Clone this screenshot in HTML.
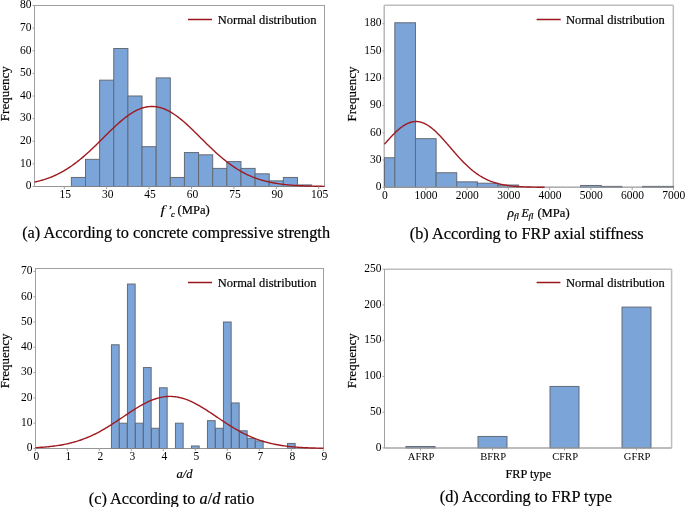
<!DOCTYPE html>
<html><head><meta charset="utf-8"><style>
html,body{margin:0;padding:0;background:#fff;}
svg{display:block;}
text.t{stroke-width:0!important;}
text{font-family:"Liberation Serif", serif;fill:#000;stroke:#000;stroke-width:0.2px;font-variant-ligatures:none;}
</style></head><body>
<svg width="685" height="507" viewBox="0 0 685 507">
<rect width="685" height="507" fill="#fff"/>
<rect x="34.5" y="5.5" width="290.0" height="181.0" fill="none" stroke="#a0a0a0" stroke-width="1"/>
<rect x="71.37" y="177.45" width="14.13" height="9.05" fill="#7ba4d8" stroke="#646b76" stroke-width="1"/>
<rect x="85.50" y="159.35" width="14.13" height="27.15" fill="#7ba4d8" stroke="#646b76" stroke-width="1"/>
<rect x="99.63" y="80.16" width="14.13" height="106.34" fill="#7ba4d8" stroke="#646b76" stroke-width="1"/>
<rect x="113.77" y="48.49" width="14.13" height="138.01" fill="#7ba4d8" stroke="#646b76" stroke-width="1"/>
<rect x="127.90" y="96.00" width="14.13" height="90.50" fill="#7ba4d8" stroke="#646b76" stroke-width="1"/>
<rect x="142.03" y="146.68" width="14.13" height="39.82" fill="#7ba4d8" stroke="#646b76" stroke-width="1"/>
<rect x="156.17" y="77.90" width="14.13" height="108.60" fill="#7ba4d8" stroke="#646b76" stroke-width="1"/>
<rect x="170.30" y="177.45" width="14.13" height="9.05" fill="#7ba4d8" stroke="#646b76" stroke-width="1"/>
<rect x="184.43" y="152.56" width="14.13" height="33.94" fill="#7ba4d8" stroke="#646b76" stroke-width="1"/>
<rect x="198.57" y="154.82" width="14.13" height="31.68" fill="#7ba4d8" stroke="#646b76" stroke-width="1"/>
<rect x="212.70" y="168.40" width="14.13" height="18.10" fill="#7ba4d8" stroke="#646b76" stroke-width="1"/>
<rect x="226.83" y="161.61" width="14.13" height="24.89" fill="#7ba4d8" stroke="#646b76" stroke-width="1"/>
<rect x="240.97" y="168.40" width="14.13" height="18.10" fill="#7ba4d8" stroke="#646b76" stroke-width="1"/>
<rect x="255.10" y="173.83" width="14.13" height="12.67" fill="#7ba4d8" stroke="#646b76" stroke-width="1"/>
<rect x="269.23" y="180.84" width="14.13" height="5.66" fill="#7ba4d8" stroke="#646b76" stroke-width="1"/>
<rect x="283.37" y="177.45" width="14.13" height="9.05" fill="#7ba4d8" stroke="#646b76" stroke-width="1"/>
<rect x="297.50" y="184.92" width="14.13" height="1.58" fill="#7ba4d8" stroke="#646b76" stroke-width="1"/>
<line x1="34.5" y1="186.5" x2="324.5" y2="186.5" stroke="#8f8f8f" stroke-width="1" opacity="0.6"/>
<polyline points="34.50,182.09 35.95,181.76 37.40,181.42 38.85,181.06 40.30,180.67 41.75,180.26 43.20,179.83 44.65,179.38 46.10,178.90 47.55,178.40 49.00,177.87 50.45,177.32 51.90,176.73 53.35,176.13 54.80,175.49 56.25,174.82 57.70,174.13 59.15,173.40 60.60,172.64 62.05,171.86 63.50,171.04 64.95,170.19 66.40,169.31 67.85,168.40 69.30,167.46 70.75,166.48 72.20,165.48 73.65,164.44 75.10,163.37 76.55,162.27 78.00,161.15 79.45,159.99 80.90,158.80 82.35,157.59 83.80,156.35 85.25,155.09 86.70,153.80 88.15,152.49 89.60,151.16 91.05,149.80 92.50,148.43 93.95,147.05 95.40,145.64 96.85,144.23 98.30,142.81 99.75,141.37 101.20,139.94 102.65,138.49 104.10,137.05 105.55,135.61 107.00,134.17 108.45,132.74 109.90,131.32 111.35,129.92 112.80,128.52 114.25,127.15 115.70,125.80 117.15,124.47 118.60,123.17 120.05,121.89 121.50,120.65 122.95,119.45 124.40,118.28 125.85,117.16 127.30,116.07 128.75,115.04 130.20,114.05 131.65,113.12 133.10,112.23 134.55,111.41 136.00,110.64 137.45,109.93 138.90,109.28 140.35,108.70 141.80,108.18 143.25,107.73 144.70,107.34 146.15,107.02 147.60,106.77 149.05,106.60 150.50,106.49 151.95,106.45 153.40,106.48 154.85,106.59 156.30,106.76 157.75,107.00 159.20,107.32 160.65,107.70 162.10,108.15 163.55,108.66 165.00,109.24 166.45,109.88 167.90,110.59 169.35,111.35 170.80,112.18 172.25,113.05 173.70,113.99 175.15,114.97 176.60,116.00 178.05,117.08 179.50,118.20 180.95,119.37 182.40,120.57 183.85,121.81 185.30,123.08 186.75,124.38 188.20,125.70 189.65,127.06 191.10,128.43 192.55,129.82 194.00,131.23 195.45,132.65 196.90,134.08 198.35,135.51 199.80,136.95 201.25,138.39 202.70,139.84 204.15,141.28 205.60,142.71 207.05,144.13 208.50,145.55 209.95,146.95 211.40,148.34 212.85,149.71 214.30,151.06 215.75,152.40 217.20,153.71 218.65,155.00 220.10,156.27 221.55,157.51 223.00,158.72 224.45,159.91 225.90,161.07 227.35,162.20 228.80,163.30 230.25,164.37 231.70,165.41 233.15,166.41 234.60,167.39 236.05,168.34 237.50,169.25 238.95,170.13 240.40,170.98 241.85,171.80 243.30,172.59 244.75,173.35 246.20,174.08 247.65,174.77 249.10,175.44 250.55,176.08 252.00,176.69 253.45,177.28 254.90,177.83 256.35,178.36 257.80,178.87 259.25,179.35 260.70,179.80 262.15,180.23 263.60,180.64 265.05,181.03 266.50,181.40 267.95,181.74 269.40,182.07 270.85,182.38 272.30,182.67 273.75,182.94 275.20,183.19 276.65,183.43 278.10,183.66 279.55,183.87 281.00,184.07 282.45,184.25 283.90,184.43 285.35,184.59 286.80,184.74 288.25,184.88 289.70,185.01 291.15,185.13 292.60,185.24 294.05,185.34 295.50,185.44 296.95,185.53 298.40,185.61 299.85,185.69 301.30,185.76 302.75,185.82 304.20,185.88 305.65,185.94 307.10,185.99 308.55,186.03 310.00,186.08 311.45,186.12 312.90,186.15 314.35,186.18 315.80,186.21 317.25,186.24 318.70,186.27 320.15,186.29 321.60,186.31 323.05,186.33 324.50,186.35" fill="none" stroke="#9f1b20" stroke-width="1.4" stroke-linejoin="round"/>
<line x1="32.5" y1="186.50" x2="34.5" y2="186.50" stroke="#a0a0a0" stroke-width="1"/>
<line x1="32.5" y1="163.88" x2="34.5" y2="163.88" stroke="#a0a0a0" stroke-width="1"/>
<line x1="32.5" y1="141.25" x2="34.5" y2="141.25" stroke="#a0a0a0" stroke-width="1"/>
<line x1="32.5" y1="118.62" x2="34.5" y2="118.62" stroke="#a0a0a0" stroke-width="1"/>
<line x1="32.5" y1="96.00" x2="34.5" y2="96.00" stroke="#a0a0a0" stroke-width="1"/>
<line x1="32.5" y1="73.38" x2="34.5" y2="73.38" stroke="#a0a0a0" stroke-width="1"/>
<line x1="32.5" y1="50.75" x2="34.5" y2="50.75" stroke="#a0a0a0" stroke-width="1"/>
<line x1="32.5" y1="28.12" x2="34.5" y2="28.12" stroke="#a0a0a0" stroke-width="1"/>
<line x1="32.5" y1="5.50" x2="34.5" y2="5.50" stroke="#a0a0a0" stroke-width="1"/>
<line x1="64.30" y1="186.5" x2="64.30" y2="189.0" stroke="#a0a0a0" stroke-width="1"/>
<line x1="106.70" y1="186.5" x2="106.70" y2="189.0" stroke="#a0a0a0" stroke-width="1"/>
<line x1="149.10" y1="186.5" x2="149.10" y2="189.0" stroke="#a0a0a0" stroke-width="1"/>
<line x1="191.50" y1="186.5" x2="191.50" y2="189.0" stroke="#a0a0a0" stroke-width="1"/>
<line x1="233.90" y1="186.5" x2="233.90" y2="189.0" stroke="#a0a0a0" stroke-width="1"/>
<line x1="276.30" y1="186.5" x2="276.30" y2="189.0" stroke="#a0a0a0" stroke-width="1"/>
<line x1="318.70" y1="186.5" x2="318.70" y2="189.0" stroke="#a0a0a0" stroke-width="1"/>
<line x1="188" y1="19.5" x2="212" y2="19.5" stroke="#9a161b" stroke-width="1.5"/>
<line x1="384.2" y1="5.3" x2="673.3" y2="5.3" stroke="#bdbdbd" stroke-width="1.5"/>
<line x1="673.3" y1="5.3" x2="673.3" y2="187.2" stroke="#bdbdbd" stroke-width="1.5"/>
<line x1="384.2" y1="187.2" x2="673.3" y2="187.2" stroke="#bdbdbd" stroke-width="1.5"/>
<line x1="384.2" y1="5.3" x2="384.2" y2="187.2" stroke="#b8b8b8" stroke-width="1.5"/>
<rect x="384.50" y="157.76" width="10.32" height="29.54" fill="#7ba4d8" stroke="#646b76" stroke-width="1"/>
<rect x="394.82" y="22.77" width="20.64" height="164.53" fill="#7ba4d8" stroke="#646b76" stroke-width="1"/>
<rect x="415.46" y="138.67" width="20.64" height="48.63" fill="#7ba4d8" stroke="#646b76" stroke-width="1"/>
<rect x="436.11" y="172.76" width="20.64" height="14.54" fill="#7ba4d8" stroke="#646b76" stroke-width="1"/>
<rect x="456.75" y="181.85" width="20.64" height="5.45" fill="#7ba4d8" stroke="#646b76" stroke-width="1"/>
<rect x="477.39" y="183.21" width="20.64" height="4.09" fill="#7ba4d8" stroke="#646b76" stroke-width="1"/>
<rect x="498.04" y="185.03" width="20.64" height="2.27" fill="#7ba4d8" stroke="#646b76" stroke-width="1"/>
<rect x="580.61" y="185.48" width="20.64" height="1.82" fill="#7ba4d8" stroke="#646b76" stroke-width="1"/>
<rect x="601.25" y="186.39" width="20.64" height="0.91" fill="#7ba4d8" stroke="#646b76" stroke-width="1"/>
<rect x="642.54" y="186.39" width="20.64" height="0.91" fill="#7ba4d8" stroke="#646b76" stroke-width="1"/>
<rect x="663.18" y="186.39" width="10.32" height="0.91" fill="#7ba4d8" stroke="#646b76" stroke-width="1"/>
<line x1="384.2" y1="187.2" x2="673.3" y2="187.2" stroke="#a8a8a8" stroke-width="1.5" opacity="0.6"/>
<polyline points="384.50,144.25 385.30,143.32 386.10,142.40 386.90,141.48 387.70,140.57 388.50,139.67 389.30,138.78 390.10,137.90 390.90,137.03 391.70,136.17 392.50,135.33 393.31,134.50 394.11,133.69 394.91,132.90 395.71,132.12 396.51,131.36 397.31,130.63 398.11,129.92 398.91,129.22 399.71,128.56 400.51,127.91 401.31,127.30 402.11,126.71 402.91,126.15 403.71,125.61 404.51,125.11 405.31,124.64 406.11,124.19 406.91,123.78 407.71,123.40 408.51,123.06 409.32,122.74 410.12,122.47 410.92,122.22 411.72,122.01 412.52,121.84 413.32,121.70 414.12,121.60 414.92,121.53 415.72,121.50 416.52,121.51 417.32,121.55 418.12,121.63 418.92,121.74 419.72,121.89 420.52,122.07 421.32,122.29 422.12,122.55 422.92,122.83 423.72,123.16 424.52,123.51 425.33,123.90 426.13,124.32 426.93,124.77 427.73,125.26 428.53,125.77 429.33,126.31 430.13,126.88 430.93,127.48 431.73,128.10 432.53,128.75 433.33,129.43 434.13,130.13 434.93,130.85 435.73,131.59 436.53,132.35 437.33,133.13 438.13,133.93 438.93,134.75 439.73,135.58 440.54,136.43 441.34,137.29 442.14,138.16 442.94,139.05 443.74,139.94 444.54,140.85 445.34,141.76 446.14,142.67 446.94,143.60 447.74,144.52 448.54,145.45 449.34,146.39 450.14,147.32 450.94,148.26 451.74,149.19 452.54,150.12 453.34,151.05 454.14,151.97 454.94,152.89 455.74,153.81 456.55,154.71 457.35,155.61 458.15,156.51 458.95,157.39 459.75,158.26 460.55,159.13 461.35,159.98 462.15,160.82 462.95,161.65 463.75,162.47 464.55,163.28 465.35,164.07 466.15,164.85 466.95,165.61 467.75,166.36 468.55,167.09 469.35,167.81 470.15,168.52 470.95,169.20 471.75,169.88 472.56,170.53 473.36,171.18 474.16,171.80 474.96,172.41 475.76,173.00 476.56,173.58 477.36,174.14 478.16,174.68 478.96,175.21 479.76,175.73 480.56,176.22 481.36,176.70 482.16,177.17 482.96,177.62 483.76,178.06 484.56,178.48 485.36,178.89 486.16,179.28 486.96,179.66 487.76,180.02 488.56,180.37 489.37,180.71 490.17,181.03 490.97,181.35 491.77,181.64 492.57,181.93 493.37,182.21 494.17,182.47 494.97,182.72 495.77,182.97 496.57,183.20 497.37,183.42 498.17,183.63 498.97,183.83 499.77,184.02 500.57,184.21 501.37,184.38 502.17,184.55 502.97,184.71 503.77,184.86 504.58,185.00 505.38,185.14 506.18,185.27 506.98,185.39 507.78,185.50 508.58,185.61 509.38,185.72 510.18,185.82 510.98,185.91 511.78,186.00 512.58,186.08 513.38,186.16 514.18,186.23 514.98,186.30 515.78,186.37 516.58,186.43 517.38,186.49 518.18,186.54 518.98,186.59 519.78,186.64 520.59,186.69 521.39,186.73 522.19,186.77 522.99,186.81 523.79,186.84 524.59,186.87 525.39,186.90 526.19,186.93 526.99,186.96 527.79,186.99 528.59,187.01 529.39,187.03 530.19,187.05 530.99,187.07 531.79,187.09 532.59,187.10 533.39,187.12 534.19,187.13 534.99,187.15 535.79,187.16 536.60,187.17 537.40,187.18 538.20,187.19 539.00,187.20 539.80,187.21 540.60,187.21 541.40,187.22 542.20,187.23 543.00,187.23 543.80,187.24 544.60,187.24" fill="none" stroke="#9f1b20" stroke-width="1.4" stroke-linejoin="round"/>
<line x1="382.5" y1="187.30" x2="384.5" y2="187.30" stroke="#a0a0a0" stroke-width="1"/>
<line x1="382.5" y1="160.03" x2="384.5" y2="160.03" stroke="#a0a0a0" stroke-width="1"/>
<line x1="382.5" y1="132.76" x2="384.5" y2="132.76" stroke="#a0a0a0" stroke-width="1"/>
<line x1="382.5" y1="105.49" x2="384.5" y2="105.49" stroke="#a0a0a0" stroke-width="1"/>
<line x1="382.5" y1="78.22" x2="384.5" y2="78.22" stroke="#a0a0a0" stroke-width="1"/>
<line x1="382.5" y1="50.95" x2="384.5" y2="50.95" stroke="#a0a0a0" stroke-width="1"/>
<line x1="382.5" y1="23.68" x2="384.5" y2="23.68" stroke="#a0a0a0" stroke-width="1"/>
<line x1="384.50" y1="187.3" x2="384.50" y2="189.8" stroke="#a0a0a0" stroke-width="1"/>
<line x1="425.79" y1="187.3" x2="425.79" y2="189.8" stroke="#a0a0a0" stroke-width="1"/>
<line x1="467.07" y1="187.3" x2="467.07" y2="189.8" stroke="#a0a0a0" stroke-width="1"/>
<line x1="508.36" y1="187.3" x2="508.36" y2="189.8" stroke="#a0a0a0" stroke-width="1"/>
<line x1="549.64" y1="187.3" x2="549.64" y2="189.8" stroke="#a0a0a0" stroke-width="1"/>
<line x1="590.93" y1="187.3" x2="590.93" y2="189.8" stroke="#a0a0a0" stroke-width="1"/>
<line x1="632.21" y1="187.3" x2="632.21" y2="189.8" stroke="#a0a0a0" stroke-width="1"/>
<line x1="673.50" y1="187.3" x2="673.50" y2="189.8" stroke="#a0a0a0" stroke-width="1"/>
<line x1="536.6" y1="19.5" x2="560.7" y2="19.5" stroke="#9a161b" stroke-width="1.5"/>
<rect x="35.5" y="268.5" width="288.0" height="180.0" fill="none" stroke="#a0a0a0" stroke-width="1"/>
<rect x="111.45" y="344.77" width="7.70" height="103.73" fill="#7ba4d8" stroke="#646b76" stroke-width="1"/>
<rect x="119.45" y="423.20" width="7.70" height="25.30" fill="#7ba4d8" stroke="#646b76" stroke-width="1"/>
<rect x="127.45" y="284.05" width="7.70" height="164.45" fill="#7ba4d8" stroke="#646b76" stroke-width="1"/>
<rect x="135.45" y="423.20" width="7.70" height="25.30" fill="#7ba4d8" stroke="#646b76" stroke-width="1"/>
<rect x="143.45" y="367.54" width="7.70" height="80.96" fill="#7ba4d8" stroke="#646b76" stroke-width="1"/>
<rect x="151.45" y="428.26" width="7.70" height="20.24" fill="#7ba4d8" stroke="#646b76" stroke-width="1"/>
<rect x="159.45" y="387.78" width="7.70" height="60.72" fill="#7ba4d8" stroke="#646b76" stroke-width="1"/>
<rect x="175.45" y="423.20" width="7.70" height="25.30" fill="#7ba4d8" stroke="#646b76" stroke-width="1"/>
<rect x="191.45" y="445.97" width="7.70" height="2.53" fill="#7ba4d8" stroke="#646b76" stroke-width="1"/>
<rect x="207.45" y="420.67" width="7.70" height="27.83" fill="#7ba4d8" stroke="#646b76" stroke-width="1"/>
<rect x="215.45" y="428.26" width="7.70" height="20.24" fill="#7ba4d8" stroke="#646b76" stroke-width="1"/>
<rect x="223.45" y="322.00" width="7.70" height="126.50" fill="#7ba4d8" stroke="#646b76" stroke-width="1"/>
<rect x="231.45" y="402.96" width="7.70" height="45.54" fill="#7ba4d8" stroke="#646b76" stroke-width="1"/>
<rect x="239.45" y="430.79" width="7.70" height="17.71" fill="#7ba4d8" stroke="#646b76" stroke-width="1"/>
<rect x="247.45" y="438.38" width="7.70" height="10.12" fill="#7ba4d8" stroke="#646b76" stroke-width="1"/>
<rect x="255.45" y="440.91" width="7.70" height="7.59" fill="#7ba4d8" stroke="#646b76" stroke-width="1"/>
<rect x="287.45" y="443.44" width="7.70" height="5.06" fill="#7ba4d8" stroke="#646b76" stroke-width="1"/>
<line x1="35.5" y1="448.5" x2="323.5" y2="448.5" stroke="#8f8f8f" stroke-width="1" opacity="0.6"/>
<polyline points="35.50,447.66 36.94,447.58 38.38,447.50 39.82,447.41 41.26,447.31 42.70,447.20 44.14,447.09 45.58,446.97 47.02,446.84 48.46,446.70 49.90,446.55 51.34,446.40 52.78,446.23 54.22,446.04 55.66,445.85 57.10,445.65 58.54,445.43 59.98,445.20 61.42,444.95 62.86,444.69 64.30,444.41 65.74,444.12 67.18,443.81 68.62,443.49 70.06,443.15 71.50,442.79 72.94,442.41 74.38,442.01 75.82,441.59 77.26,441.16 78.70,440.70 80.14,440.22 81.58,439.72 83.02,439.20 84.46,438.66 85.90,438.09 87.34,437.51 88.78,436.90 90.22,436.27 91.66,435.62 93.10,434.95 94.54,434.25 95.98,433.53 97.42,432.80 98.86,432.04 100.30,431.26 101.74,430.46 103.18,429.64 104.62,428.81 106.06,427.95 107.50,427.08 108.94,426.19 110.38,425.29 111.82,424.38 113.26,423.45 114.70,422.51 116.14,421.57 117.58,420.61 119.02,419.65 120.46,418.68 121.90,417.71 123.34,416.74 124.78,415.77 126.22,414.80 127.66,413.83 129.10,412.87 130.54,411.92 131.98,410.98 133.42,410.05 134.86,409.14 136.30,408.24 137.74,407.36 139.18,406.50 140.62,405.66 142.06,404.85 143.50,404.06 144.94,403.31 146.38,402.58 147.82,401.89 149.26,401.23 150.70,400.61 152.14,400.02 153.58,399.47 155.02,398.97 156.46,398.50 157.90,398.08 159.34,397.71 160.78,397.38 162.22,397.10 163.66,396.86 165.10,396.67 166.54,396.53 167.98,396.44 169.42,396.40 170.86,396.41 172.30,396.47 173.74,396.58 175.18,396.73 176.62,396.93 178.06,397.19 179.50,397.48 180.94,397.83 182.38,398.22 183.82,398.65 185.26,399.13 186.70,399.65 188.14,400.21 189.58,400.81 191.02,401.44 192.46,402.11 193.90,402.82 195.34,403.56 196.78,404.32 198.22,405.12 199.66,405.94 201.10,406.78 202.54,407.65 203.98,408.53 205.42,409.44 206.86,410.36 208.30,411.29 209.74,412.24 211.18,413.19 212.62,414.15 214.06,415.12 215.50,416.09 216.94,417.06 218.38,418.03 219.82,419.00 221.26,419.97 222.70,420.93 224.14,421.88 225.58,422.83 227.02,423.76 228.46,424.69 229.90,425.60 231.34,426.49 232.78,427.37 234.22,428.24 235.66,429.09 237.10,429.92 238.54,430.73 239.98,431.52 241.42,432.29 242.86,433.04 244.30,433.78 245.74,434.48 247.18,435.17 248.62,435.84 250.06,436.48 251.50,437.11 252.94,437.71 254.38,438.28 255.82,438.84 257.26,439.38 258.70,439.89 260.14,440.38 261.58,440.85 263.02,441.30 264.46,441.73 265.90,442.14 267.34,442.54 268.78,442.91 270.22,443.26 271.66,443.60 273.10,443.92 274.54,444.22 275.98,444.51 277.42,444.78 278.86,445.03 280.30,445.28 281.74,445.50 283.18,445.72 284.62,445.92 286.06,446.11 287.50,446.28 288.94,446.45 290.38,446.60 291.82,446.75 293.26,446.89 294.70,447.01 296.14,447.13 297.58,447.24 299.02,447.34 300.46,447.44 301.90,447.52 303.34,447.61 304.78,447.68 306.22,447.75 307.66,447.82 309.10,447.88 310.54,447.93 311.98,447.98 313.42,448.03 314.86,448.07 316.30,448.11 317.74,448.15 319.18,448.18 320.62,448.21 322.06,448.24 323.50,448.26" fill="none" stroke="#9f1b20" stroke-width="1.4" stroke-linejoin="round"/>
<line x1="33.5" y1="448.50" x2="35.5" y2="448.50" stroke="#a0a0a0" stroke-width="1"/>
<line x1="33.5" y1="423.20" x2="35.5" y2="423.20" stroke="#a0a0a0" stroke-width="1"/>
<line x1="33.5" y1="397.90" x2="35.5" y2="397.90" stroke="#a0a0a0" stroke-width="1"/>
<line x1="33.5" y1="372.60" x2="35.5" y2="372.60" stroke="#a0a0a0" stroke-width="1"/>
<line x1="33.5" y1="347.30" x2="35.5" y2="347.30" stroke="#a0a0a0" stroke-width="1"/>
<line x1="33.5" y1="322.00" x2="35.5" y2="322.00" stroke="#a0a0a0" stroke-width="1"/>
<line x1="33.5" y1="296.70" x2="35.5" y2="296.70" stroke="#a0a0a0" stroke-width="1"/>
<line x1="33.5" y1="271.40" x2="35.5" y2="271.40" stroke="#a0a0a0" stroke-width="1"/>
<line x1="35.30" y1="448.5" x2="35.30" y2="451.0" stroke="#a0a0a0" stroke-width="1"/>
<line x1="67.30" y1="448.5" x2="67.30" y2="451.0" stroke="#a0a0a0" stroke-width="1"/>
<line x1="99.30" y1="448.5" x2="99.30" y2="451.0" stroke="#a0a0a0" stroke-width="1"/>
<line x1="131.30" y1="448.5" x2="131.30" y2="451.0" stroke="#a0a0a0" stroke-width="1"/>
<line x1="163.30" y1="448.5" x2="163.30" y2="451.0" stroke="#a0a0a0" stroke-width="1"/>
<line x1="195.30" y1="448.5" x2="195.30" y2="451.0" stroke="#a0a0a0" stroke-width="1"/>
<line x1="227.30" y1="448.5" x2="227.30" y2="451.0" stroke="#a0a0a0" stroke-width="1"/>
<line x1="259.30" y1="448.5" x2="259.30" y2="451.0" stroke="#a0a0a0" stroke-width="1"/>
<line x1="291.30" y1="448.5" x2="291.30" y2="451.0" stroke="#a0a0a0" stroke-width="1"/>
<line x1="323.30" y1="448.5" x2="323.30" y2="451.0" stroke="#a0a0a0" stroke-width="1"/>
<line x1="188" y1="282.5" x2="212" y2="282.5" stroke="#9a161b" stroke-width="1.5"/>
<line x1="384.5" y1="269.2" x2="671.6" y2="269.2" stroke="#bdbdbd" stroke-width="1.5"/>
<line x1="671.6" y1="269.2" x2="671.6" y2="447.9" stroke="#bdbdbd" stroke-width="1.5"/>
<line x1="384.5" y1="447.9" x2="671.6" y2="447.9" stroke="#bdbdbd" stroke-width="1.5"/>
<line x1="384.5" y1="269.2" x2="384.5" y2="447.9" stroke="#a0a0a0" stroke-width="1"/>
<rect x="406.00" y="446.47" width="29.00" height="1.43" fill="#7ba4d8" stroke="#646b76" stroke-width="1"/>
<rect x="478.00" y="436.46" width="29.00" height="11.44" fill="#7ba4d8" stroke="#646b76" stroke-width="1"/>
<rect x="550.00" y="386.43" width="29.00" height="61.47" fill="#7ba4d8" stroke="#646b76" stroke-width="1"/>
<rect x="622.00" y="307.08" width="29.00" height="140.82" fill="#7ba4d8" stroke="#646b76" stroke-width="1"/>
<line x1="384.5" y1="447.9" x2="671.6" y2="447.9" stroke="#a8a8a8" stroke-width="1.5" opacity="0.6"/>
<line x1="382.5" y1="447.90" x2="384.5" y2="447.90" stroke="#a0a0a0" stroke-width="1"/>
<line x1="382.5" y1="412.16" x2="384.5" y2="412.16" stroke="#a0a0a0" stroke-width="1"/>
<line x1="382.5" y1="376.42" x2="384.5" y2="376.42" stroke="#a0a0a0" stroke-width="1"/>
<line x1="382.5" y1="340.68" x2="384.5" y2="340.68" stroke="#a0a0a0" stroke-width="1"/>
<line x1="382.5" y1="304.94" x2="384.5" y2="304.94" stroke="#a0a0a0" stroke-width="1"/>
<line x1="382.5" y1="269.20" x2="384.5" y2="269.20" stroke="#a0a0a0" stroke-width="1"/>
<line x1="420.50" y1="447.9" x2="420.50" y2="450.4" stroke="#a0a0a0" stroke-width="1"/>
<line x1="492.50" y1="447.9" x2="492.50" y2="450.4" stroke="#a0a0a0" stroke-width="1"/>
<line x1="564.50" y1="447.9" x2="564.50" y2="450.4" stroke="#a0a0a0" stroke-width="1"/>
<line x1="636.50" y1="447.9" x2="636.50" y2="450.4" stroke="#a0a0a0" stroke-width="1"/>
<line x1="536.6" y1="282.5" x2="560.4" y2="282.5" stroke="#9a161b" stroke-width="1.5"/>
<g style="will-change:transform"><text x="31.50" y="189.30" font-size="11.5" text-anchor="end" class="t">0</text>
<text x="31.50" y="166.68" font-size="11.5" text-anchor="end" class="t">10</text>
<text x="31.50" y="144.05" font-size="11.5" text-anchor="end" class="t">20</text>
<text x="31.50" y="121.42" font-size="11.5" text-anchor="end" class="t">30</text>
<text x="31.50" y="98.80" font-size="11.5" text-anchor="end" class="t">40</text>
<text x="31.50" y="76.17" font-size="11.5" text-anchor="end" class="t">50</text>
<text x="31.50" y="53.55" font-size="11.5" text-anchor="end" class="t">60</text>
<text x="31.50" y="30.93" font-size="11.5" text-anchor="end" class="t">70</text>
<text x="31.50" y="8.30" font-size="11.5" text-anchor="end" class="t">80</text>
<text x="65.30" y="197.80" font-size="11.5" text-anchor="middle" class="t">15</text>
<text x="107.70" y="197.80" font-size="11.5" text-anchor="middle" class="t">30</text>
<text x="150.10" y="197.80" font-size="11.5" text-anchor="middle" class="t">45</text>
<text x="192.50" y="197.80" font-size="11.5" text-anchor="middle" class="t">60</text>
<text x="234.90" y="197.80" font-size="11.5" text-anchor="middle" class="t">75</text>
<text x="277.30" y="197.80" font-size="11.5" text-anchor="middle" class="t">90</text>
<text x="319.70" y="197.80" font-size="11.5" text-anchor="middle" class="t">105</text>
<text x="0" y="0" transform="translate(217.70 23.80) scale(1.0 1.06)" font-size="12.5" text-anchor="start" >Normal distribution</text>
<text x="8.8" y="93.75" font-size="13" text-anchor="middle" transform="rotate(-90 8.8 93.75)">Frequency</text>
<text x="0" y="0" font-size="12" font-style="italic" transform="translate(160.6 214.3) scale(1.35 1)" style="stroke-width:0.1px">f</text>
<text x="167.70" y="214.30" font-size="12" text-anchor="start" font-style="italic">’</text>
<text x="171.00" y="217.30" font-size="8.6" text-anchor="start" font-style="italic">c</text>
<text x="177.60" y="214.30" font-size="12.6" text-anchor="start" >(MPa)</text>
<text x="176.10" y="238.00" font-size="16.3" text-anchor="middle" >(a) According to concrete compressive strength</text>
<text x="381.50" y="190.10" font-size="11.5" text-anchor="end" class="t">0</text>
<text x="381.50" y="162.83" font-size="11.5" text-anchor="end" class="t">30</text>
<text x="381.50" y="135.56" font-size="11.5" text-anchor="end" class="t">60</text>
<text x="381.50" y="108.29" font-size="11.5" text-anchor="end" class="t">90</text>
<text x="381.50" y="81.02" font-size="11.5" text-anchor="end" class="t">120</text>
<text x="381.50" y="53.75" font-size="11.5" text-anchor="end" class="t">150</text>
<text x="381.50" y="26.48" font-size="11.5" text-anchor="end" class="t">180</text>
<text x="384.80" y="198.60" font-size="11.5" text-anchor="middle" class="t">0</text>
<text x="426.09" y="198.60" font-size="11.5" text-anchor="middle" class="t">1000</text>
<text x="467.37" y="198.60" font-size="11.5" text-anchor="middle" class="t">2000</text>
<text x="508.66" y="198.60" font-size="11.5" text-anchor="middle" class="t">3000</text>
<text x="549.94" y="198.60" font-size="11.5" text-anchor="middle" class="t">4000</text>
<text x="591.23" y="198.60" font-size="11.5" text-anchor="middle" class="t">5000</text>
<text x="632.51" y="198.60" font-size="11.5" text-anchor="middle" class="t">6000</text>
<text x="673.80" y="198.60" font-size="11.5" text-anchor="middle" class="t">7000</text>
<text x="0" y="0" transform="translate(565.90 23.80) scale(1.0 1.06)" font-size="12.5" text-anchor="start" >Normal distribution</text>
<text x="356.4" y="94" font-size="13" text-anchor="middle" transform="rotate(-90 356.4 94)">Frequency</text>
<text x="507.60" y="216.50" font-size="13.5" text-anchor="start" font-style="italic">ρ</text>
<text x="514.00" y="219.00" font-size="8.6" text-anchor="start" font-style="italic">fl</text>
<text x="521.50" y="216.50" font-size="12" text-anchor="start" font-style="italic">E</text>
<text x="528.50" y="219.00" font-size="8.6" text-anchor="start" font-style="italic">fl</text>
<text x="537.40" y="216.50" font-size="12.6" text-anchor="start" >(MPa)</text>
<text x="526.70" y="239.00" font-size="16.3" text-anchor="middle" >(b) According to FRP axial stiffness</text>
<text x="32.50" y="451.30" font-size="11.5" text-anchor="end" class="t">0</text>
<text x="32.50" y="426.00" font-size="11.5" text-anchor="end" class="t">10</text>
<text x="32.50" y="400.70" font-size="11.5" text-anchor="end" class="t">20</text>
<text x="32.50" y="375.40" font-size="11.5" text-anchor="end" class="t">30</text>
<text x="32.50" y="350.10" font-size="11.5" text-anchor="end" class="t">40</text>
<text x="32.50" y="324.80" font-size="11.5" text-anchor="end" class="t">50</text>
<text x="32.50" y="299.50" font-size="11.5" text-anchor="end" class="t">60</text>
<text x="32.50" y="274.20" font-size="11.5" text-anchor="end" class="t">70</text>
<text x="36.30" y="459.60" font-size="11.5" text-anchor="middle" class="t">0</text>
<text x="68.30" y="459.60" font-size="11.5" text-anchor="middle" class="t">1</text>
<text x="100.30" y="459.60" font-size="11.5" text-anchor="middle" class="t">2</text>
<text x="132.30" y="459.60" font-size="11.5" text-anchor="middle" class="t">3</text>
<text x="164.30" y="459.60" font-size="11.5" text-anchor="middle" class="t">4</text>
<text x="196.30" y="459.60" font-size="11.5" text-anchor="middle" class="t">5</text>
<text x="228.30" y="459.60" font-size="11.5" text-anchor="middle" class="t">6</text>
<text x="260.30" y="459.60" font-size="11.5" text-anchor="middle" class="t">7</text>
<text x="292.30" y="459.60" font-size="11.5" text-anchor="middle" class="t">8</text>
<text x="324.30" y="459.60" font-size="11.5" text-anchor="middle" class="t">9</text>
<text x="0" y="0" transform="translate(217.70 286.70) scale(1.0 1.06)" font-size="12.5" text-anchor="start" >Normal distribution</text>
<text x="8.8" y="360.9" font-size="13" text-anchor="middle" transform="rotate(-90 8.8 360.9)">Frequency</text>
<text x="184.50" y="477.60" font-size="12.5" text-anchor="middle" font-style="italic">a/d</text>
<text x="88.80" y="503.60" font-size="16.3" text-anchor="start" >(c) According to <tspan font-style="italic">a</tspan>/<tspan font-style="italic">d</tspan> ratio</text>
<text x="381.50" y="450.70" font-size="11.5" text-anchor="end" class="t">0</text>
<text x="381.50" y="414.96" font-size="11.5" text-anchor="end" class="t">50</text>
<text x="381.50" y="379.22" font-size="11.5" text-anchor="end" class="t">100</text>
<text x="381.50" y="343.48" font-size="11.5" text-anchor="end" class="t">150</text>
<text x="381.50" y="307.74" font-size="11.5" text-anchor="end" class="t">200</text>
<text x="381.50" y="272.00" font-size="11.5" text-anchor="end" class="t">250</text>
<text x="421.10" y="459.60" font-size="10.6" text-anchor="middle" class="t">AFRP</text>
<text x="493.10" y="459.60" font-size="10.6" text-anchor="middle" class="t">BFRP</text>
<text x="565.10" y="459.60" font-size="10.6" text-anchor="middle" class="t">CFRP</text>
<text x="637.10" y="459.60" font-size="10.6" text-anchor="middle" class="t">GFRP</text>
<text x="0" y="0" transform="translate(565.90 286.70) scale(1.0 1.06)" font-size="12.5" text-anchor="start" >Normal distribution</text>
<text x="356.4" y="360.75" font-size="13" text-anchor="middle" transform="rotate(-90 356.4 360.75)">Frequency</text>
<text x="528.30" y="477.80" font-size="12.3" text-anchor="middle" >FRP type</text>
<text x="439.80" y="501.70" font-size="16.3" text-anchor="start" >(d) According to FRP type</text></g>
</svg>
</body></html>
